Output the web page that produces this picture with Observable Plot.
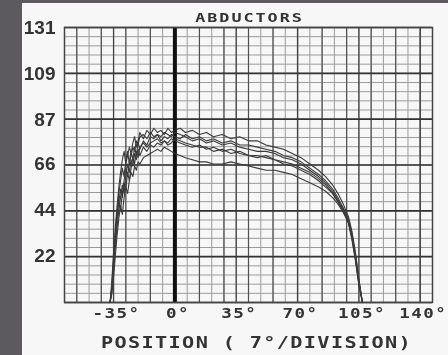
<!DOCTYPE html>
<html><head><meta charset="utf-8">
<script src="https://cdn.jsdelivr.net/npm/d3@7"></script>
<script src="https://cdn.jsdelivr.net/npm/@observablehq/plot@0.6"></script>
<style>
html,body{margin:0;padding:0;background:#5c5a5f;width:448px;height:355px;overflow:hidden}
#panel{position:absolute;left:22px;top:3px;width:426px;height:352px;background:#f7f7f7}
#chart{position:absolute;left:0;top:0}
#chart svg{filter:blur(0.35px)}
</style></head><body><div id="panel"></div><div id="chart"></div>
<script>
// Position (degrees) at which each curve was sampled
const positions = [-37,-36,-35,-34,-33,-32,-31,-30,-29,-28,-27,-26,-25,-24,-23,-22,-21,-20,
  -18,-16,-14,-12,-10,-8,-6,-4,-2,
  0,3,6,
  10,14,18,22,
  27,32,37,42,47,52,57,62,67,72,77,82,
  86,90,93,96,99,101,103,105,107];

// Torque curves (one array per repetition)
const seriesA = [0,10,24,36,46,55,62,68,72,66,70,74,71,76,79,74,77,81,
  78,82,80,83,81,82,80,83,81, 82,83,81, 82,80,81,79,
  80,78,79,77,77,75,74,73,71,69,66,63, 60,56,52,47,41,34,24,11,0];
const seriesB = [0,6,18,30,40,48,54,50,58,64,60,67,72,68,74,70,76,73,
  77,75,79,78,80,77,79,78,80, 79,78,80, 78,79,77,78,
  76,77,75,75,74,73,72,70,69,67,64,61, 58,54,50,45,39,32,22,10,0];
const seriesC = [0,5,15,26,36,44,50,56,52,60,66,62,68,65,71,68,73,70,
  74,72,75,74,76,75,77,76,78, 77,76,75, 74,75,73,74,
  72,73,71,70,70,69,68,66,65,63,61,58, 55,52,48,44,38,31,21,9,0];
const seriesD = [0,4,12,22,32,40,46,42,50,55,52,58,62,60,65,63,67,66,
  69,70,71,72,73,72,74,73,72, 71,70,69, 68,67,67,66,
  66,67,66,65,64,63,63,62,61,59,57,55, 53,50,47,43,38,30,20,8,0];
const seriesE = [0,8,21,33,43,52,58,64,60,68,72,66,70,74,72,77,75,79,
  80,78,81,79,80,79,81,80,79, 81,80,79, 77,78,76,77,
  75,76,74,73,72,72,71,69,68,66,63,60, 57,53,49,45,40,33,23,11,0];
const seriesF = [0,7,19,31,41,49,44,52,57,54,62,58,64,69,66,72,69,74,
  76,74,76,77,78,76,77,75,76, 78,77,76, 75,74,74,72,
  73,71,72,70,69,70,68,67,66,64,62,59, 56,52,48,44,38,31,21,9,0];

const xTickValues = [-35, 0, 35, 70, 105, 140];
const yTickValues = [22, 44, 66, 87, 109, 131];
const titleText = "ABDUCTORS";
const xLabelText = "POSITION ( 7°/DIVISION)";

const series = [seriesA, seriesB, seriesC, seriesD, seriesE, seriesF];
const data = series.flatMap((vals, i) => vals.map((v, j) => ({pos: positions[j], val: v, rep: i})));

const yMax = 131;
const yMajor = d3.range(0, 7).map(k => yMax * k / 6);
const yMinor = d3.range(0, 31).map(k => yMax * k / 30);
const xMinor = d3.range(-63, 148, 7);
const xMid = xMinor.filter(d => d % 14 === 0);

const mono = "'DejaVu Sans Mono', 'Liberation Mono', monospace";

const chart = Plot.plot({
  width: 448, height: 355,
  marginLeft: 64, marginRight: 16, marginTop: 27, marginBottom: 53,
  x: {domain: [-63, 147], axis: null},
  y: {domain: [0, 131], axis: null},
  style: {background: "transparent", overflow: "visible"},
  marks: [
    Plot.ruleY(yMinor, {stroke: "#9c9c9c", strokeWidth: 1}),
    Plot.ruleX(xMinor, {stroke: "#9c9c9c", strokeWidth: 1}),
    Plot.ruleX(xMid, {stroke: "#505050", strokeWidth: 1.2}),
    Plot.ruleX(xTickValues, {stroke: "#444", strokeWidth: 1.3}),
    Plot.ruleY(yMajor, {stroke: "#333", strokeWidth: 1.6}),
    Plot.ruleX([0], {stroke: "#111", strokeWidth: 4}),
    Plot.frame({stroke: "#444", strokeWidth: 1.5}),
    Plot.line(data, {x: "pos", y: "val", z: "rep", stroke: "#3a3a3a", strokeWidth: 1.1}),
    Plot.text(yTickValues, {y: d => d, frameAnchor: "left", text: d => String(d), textAnchor: "end", dx: -9,
      fontSize: 19, fontWeight: "bold", fill: "#333", fontFamily: "'Liberation Sans', Arial, sans-serif"}),
    Plot.text(xTickValues, {x: d => d, frameAnchor: "bottom", text: d => d + "°", dy: 11, dx: 3, lineAnchor: "middle",
      fontSize: 13.5, fontWeight: "bold", fill: "#333", fontFamily: mono}),
    Plot.text([titleText], {frameAnchor: "top", dy: -9, dx: 1, lineAnchor: "middle",
      fontSize: 12, fontWeight: "bold", fill: "#333", fontFamily: mono}),
    Plot.text([xLabelText], {frameAnchor: "bottom", dy: 41, dx: 8, lineAnchor: "middle",
      fontSize: 15, fontWeight: "bold", fill: "#333", fontFamily: mono})
  ]
});
document.getElementById("chart").appendChild(chart);

// widen the monospace labels like the plotter's bitmap font:
// wrap each text in a group that stretches it horizontally about its own centre
function widen(t, sx, spacing) {
  t.setAttribute("letter-spacing", spacing + "px");
  const b = t.getBBox();
  let cx = b.x + b.width / 2, cy = b.y + b.height / 2;
  const list = t.transform && t.transform.baseVal;
  if (list && list.numberOfItems) {
    const m = list.consolidate().matrix;
    const px = m.a * cx + m.c * cy + m.e, py = m.b * cx + m.d * cy + m.f;
    cx = px; cy = py;
  }
  const g = document.createElementNS("http://www.w3.org/2000/svg", "g");
  g.setAttribute("transform", `translate(${cx},${cy}) scale(${sx},1) translate(${-cx},${-cy})`);
  t.parentNode.insertBefore(g, t);
  g.appendChild(t);
}
chart.querySelectorAll("text").forEach(t => {
  const s = t.textContent;
  if (s === titleText) widen(t, 1.4, 1.4);
  else if (s === xLabelText) widen(t, 1.35, 1);
  else if (s.endsWith("°")) widen(t, 1.3, 1.1);
});
</script></body></html>
